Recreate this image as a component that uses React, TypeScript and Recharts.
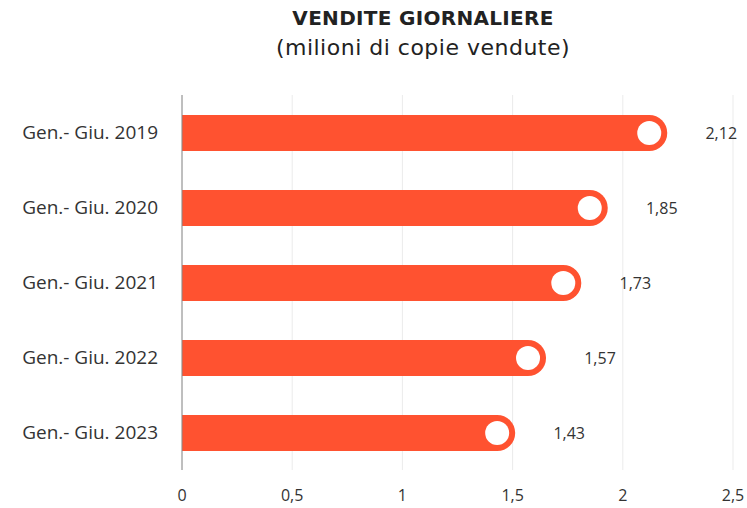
import { BarChart, Bar, XAxis, YAxis, CartesianGrid, LabelList } from 'recharts'

const categories = [
  'Gen.- Giu. 2019',
  'Gen.- Giu. 2020',
  'Gen.- Giu. 2021',
  'Gen.- Giu. 2022',
  'Gen.- Giu. 2023',
]
const sales = [2.12, 1.85, 1.73, 1.57, 1.43]
const xTicks = [0, 0.5, 1, 1.5, 2, 2.5]

const data = categories.map((name, i) => ({ name, value: sales[i] }))

const RED = '#FF5230'
const fmt = (v: number) => String(v).replace('.', ',')

function PillBar(props: any) {
  const { x, y, width, height } = props
  const r = height / 2
  const end = x + width
  return (
    <g>
      <path
        d={`M${x},${y} H${end} A${r},${r} 0 0 1 ${end},${y + height} H${x} Z`}
        fill={RED}
      />
      <circle cx={end} cy={y + r} r={12} fill="#fff" />
    </g>
  )
}

function ValueLabel(props: any) {
  const { x, y, width, height, value } = props
  return (
    <text
      x={x + width + 72}
      y={y + height / 2}
      textAnchor="middle"
      dominantBaseline="central"
      fill="#333"
      fontSize={16}
      fontFamily="'Open Sans', sans-serif"
    >
      {fmt(value)}
    </text>
  )
}

export default function App() {
  return (
    <div
      style={{
        position: 'absolute',
        left: 0,
        top: 0,
        width: 747,
        height: 508,
        background: '#fff',
        fontFamily: "'Open Sans', sans-serif",
      }}
    >
      <div
        style={{
          position: 'absolute',
          left: 0,
          width: 846,
          top: 4,
          textAlign: 'center',
          color: '#222',
          lineHeight: '29px',
          fontFamily: "'DejaVu Sans', sans-serif",
        }}
      >
        <div style={{ fontWeight: 'bold', fontSize: 20, letterSpacing: 0.3 }}>VENDITE GIORNALIERE</div>
        <div style={{ fontSize: 22, letterSpacing: 0.5 }}>(milioni di copie vendute)</div>
      </div>
      <BarChart
        width={747}
        height={508}
        layout="vertical"
        data={data}
        margin={{ top: 95, right: 14, bottom: 0, left: 0 }}
        barSize={36}
      >
        <CartesianGrid horizontal={false} stroke="#ebebeb" />
        <XAxis
          type="number"
          domain={[0, 2.5]}
          ticks={xTicks}
          tickFormatter={fmt}
          axisLine={false}
          tickLine={false}
          tickMargin={14}
          height={38}
          tick={{ fill: '#333', fontSize: 16 }}
        />
        <YAxis
          type="category"
          dataKey="name"
          width={182}
          axisLine={{ stroke: '#888' }}
          tickLine={false}
          tickMargin={18}
          tick={{ fill: '#333', fontSize: 19 }}
        />
        <Bar dataKey="value" shape={PillBar} isAnimationActive={false}>
          <LabelList dataKey="value" content={ValueLabel} />
        </Bar>
      </BarChart>
    </div>
  )
}
